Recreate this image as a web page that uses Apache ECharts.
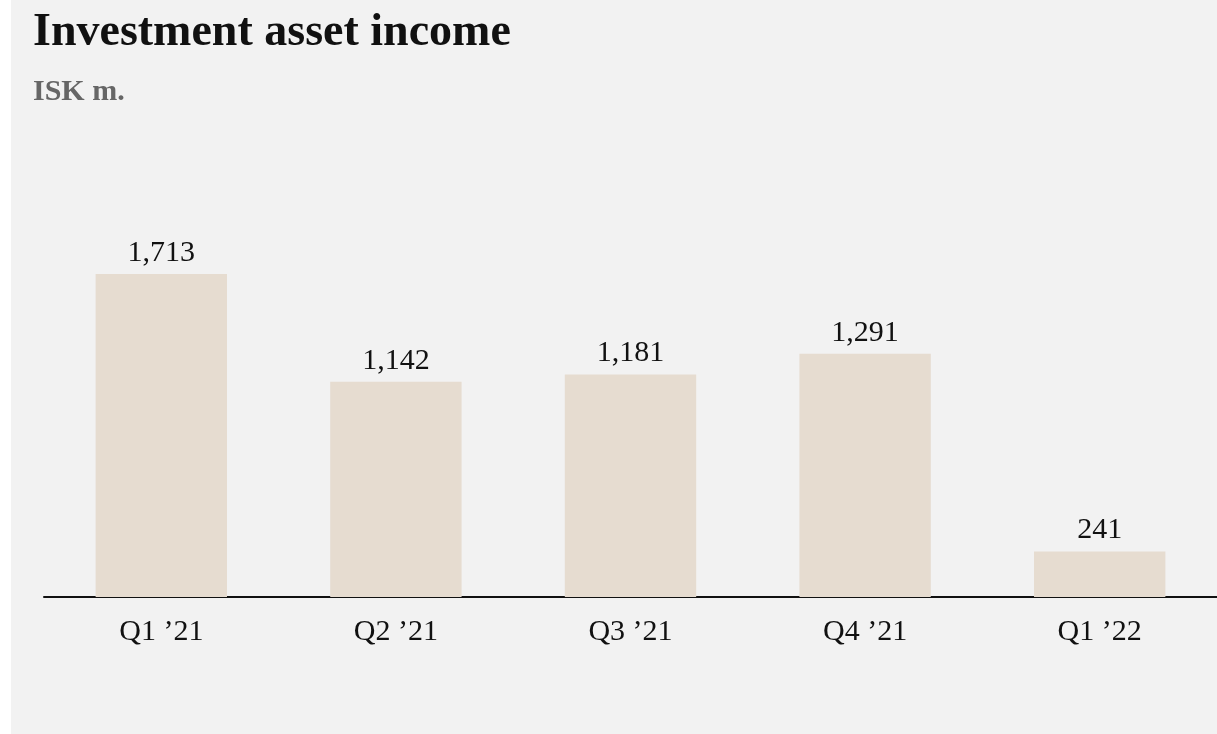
<!DOCTYPE html>
<html>
<head>
<meta charset="utf-8">
<script src="https://cdn.jsdelivr.net/npm/echarts@6/dist/echarts.min.js"></script>
<style>
html,body{margin:0;padding:0;background:#fff;}
#chart{width:1217px;height:734px;background:linear-gradient(to right,#ffffff 11px,#f2f2f2 11px);}
</style>
</head>
<body>
<div id="chart"></div>
<script>
const categories = ["Q1 \u201921", "Q2 \u201921", "Q3 \u201921", "Q4 \u201921", "Q1 \u201922"];
const values = [1713, 1142, 1181, 1291, 241];
const titleText = "Investment asset income";
const subtitleText = "ISK m.";

const chart = echarts.init(document.getElementById('chart'), null, {renderer: 'canvas'});
const serif = '"Liberation Serif", "Times New Roman", "DejaVu Serif", serif';
chart.setOption({
  backgroundColor: 'transparent',
  animation: false,
  title: {
    text: titleText,
    subtext: subtitleText,
    left: 28,
    top: 5,
    itemGap: 21,
    textStyle: {fontFamily: serif, fontSize: 46, fontWeight: 'bold', color: '#111'},
    subtextStyle: {fontFamily: serif, fontSize: 30, fontWeight: 'bold', color: '#666'}
  },
  grid: {left: 44, right: 0, top: 220, bottom: 137, containLabel: false},
  xAxis: {
    type: 'category',
    data: categories,
    axisLine: {show: true, lineStyle: {color: '#111', width: 2}},
    axisTick: {show: false},
    axisLabel: {fontFamily: serif, fontSize: 30, color: '#111', margin: 20}
  },
  yAxis: {
    type: 'value',
    min: 0,
    max: 2000,
    show: false,
    splitLine: {show: false}
  },
  series: [{
    type: 'bar',
    data: values,
    barCategoryGap: '44%',
    itemStyle: {color: '#e6dcd0'},
    label: {
      show: true,
      position: 'top',
      distance: 6,
      fontFamily: serif,
      fontSize: 30,
      color: '#111',
      formatter: p => p.value.toLocaleString('en-US')
    }
  }]
});
</script>
</body>
</html>
